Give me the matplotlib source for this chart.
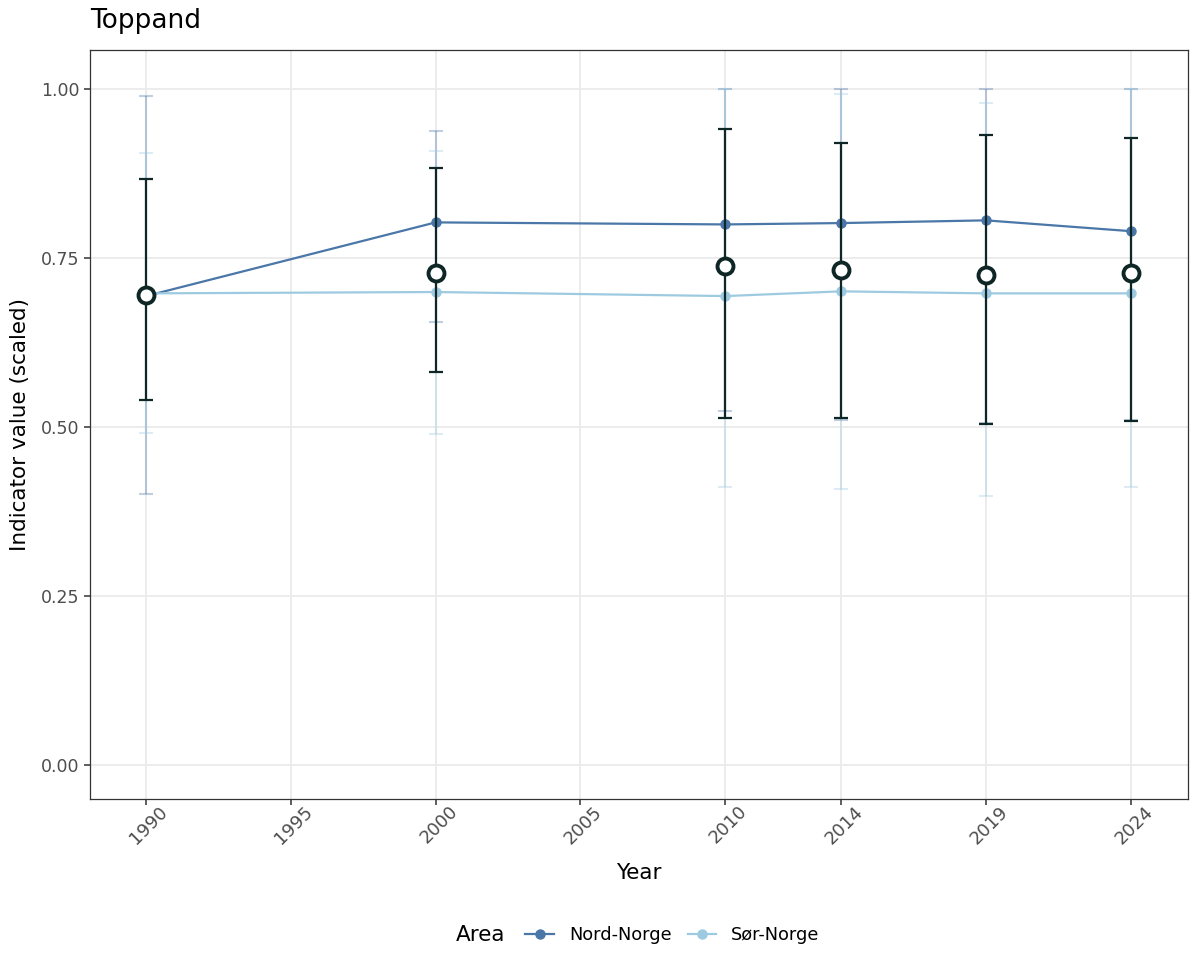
import matplotlib
matplotlib.use("Agg")
import matplotlib.pyplot as plt
import matplotlib.transforms as mtransforms
from matplotlib.lines import Line2D
import numpy as np

years = [1990, 2000, 2010, 2014, 2019, 2024]

# overall indicator (open circles) with bounds
total_mean = [0.695, 0.728, 0.738, 0.732, 0.725, 0.728]
total_low = [0.541, 0.581, 0.513, 0.514, 0.505, 0.509]
total_high = [0.867, 0.883, 0.941, 0.920, 0.932, 0.928]

# per area
nord_mean = [0.694, 0.803, 0.800, 0.802, 0.806, 0.790]
nord_low = [0.401, 0.655, 0.524, 0.510, 0.506, 0.510]
nord_high = [0.990, 0.938, 1.000, 1.000, 1.000, 1.000]

sor_mean = [0.698, 0.700, 0.694, 0.701, 0.698, 0.698]
sor_low = [0.492, 0.490, 0.411, 0.408, 0.398, 0.411]
sor_high = [0.905, 0.909, 1.000, 0.993, 0.980, 1.000]

x_ticks = [1990, 1995, 2000, 2005, 2010, 2014, 2019, 2024]
y_ticks = [0.0, 0.25, 0.5, 0.75, 1.0]

NORD_COL = '#4a76a8'
SOR_COL = '#9ecae1'
DARK = '#0e2625'

fig = plt.figure(figsize=(12, 9.75), dpi=100)
ax = fig.add_axes([0.075, 0.1805, 0.915, 0.7682])

def yerr(mean, low, high):
    m = np.array(mean)
    return [m - np.array(low), np.array(high) - m]

# faint area bars
ax.errorbar(years, nord_mean, yerr=yerr(nord_mean, nord_low, nord_high), fmt='none',
            ecolor=NORD_COL, alpha=0.35, elinewidth=1.5, capsize=5, capthick=1.5, zorder=2)
ax.errorbar(years, sor_mean, yerr=yerr(sor_mean, sor_low, sor_high), fmt='none',
            ecolor=SOR_COL, alpha=0.35, elinewidth=1.5, capsize=5, capthick=1.5, zorder=2)

ax.plot(years, nord_mean, color=NORD_COL, lw=1.6, marker='o', ms=6.5, zorder=3)
ax.plot(years, sor_mean, color=SOR_COL, lw=1.6, marker='o', ms=6.5, zorder=3)

ax.errorbar(years, total_mean, yerr=yerr(total_mean, total_low, total_high), fmt='none',
            ecolor=DARK, elinewidth=1.6, capsize=5, capthick=1.6, zorder=4)
ax.plot(years, total_mean, ls='none', marker='o', ms=11.5, mfc='white', mec=DARK, mew=2.8, zorder=5)

ax.set_xlim(1988.07, 2025.97)
ax.set_ylim(-0.05, 1.058)
ax.set_xticks(x_ticks)
ax.set_xticklabels([str(v) for v in x_ticks], rotation=45, ha='center')
ax.set_yticks(y_ticks)
ax.set_yticklabels(['%.2f' % v for v in y_ticks])
ax.tick_params(labelsize=12.5, labelcolor='#4d4d4d', color='#333333', length=4, width=1.1)
ax.tick_params(axis='x', labelsize=13, pad=-1.5)
shift = mtransforms.ScaledTranslation(3 / 100, 0, fig.dpi_scale_trans)
for lab in ax.get_xticklabels():
    lab.set_transform(lab.get_transform() + shift)
ax.grid(True, color='#ebebeb', lw=1.3, zorder=0)
ax.set_axisbelow(True)
for s in ax.spines.values():
    s.set_color('#333333')
    s.set_linewidth(0.9)

ax.set_xlabel('Year', fontsize=15.5, labelpad=11)
ax.set_ylabel('Indicator value (scaled)', fontsize=15.5, labelpad=8)
fig.text(0.075, 0.965, 'Toppand', fontsize=19, ha='left', va='bottom')

# legend at bottom with title on the left
fig.text(456 / 1200, 0.041, 'Area', fontsize=15.5, ha='left', va='center')
handles = [Line2D([], [], color=NORD_COL, lw=1.6, marker='o', ms=6.5),
           Line2D([], [], color=SOR_COL, lw=1.6, marker='o', ms=6.5)]
fig.legend(handles, ['Nord-Norge', 'Sør-Norge'], loc='center left',
           bbox_to_anchor=(0.4305, 0.041), ncol=2, frameon=False, fontsize=12.8,
           handlelength=1.6, columnspacing=0.9, handletextpad=0.85, borderpad=0)

fig.savefig('out.png', dpi=100)
